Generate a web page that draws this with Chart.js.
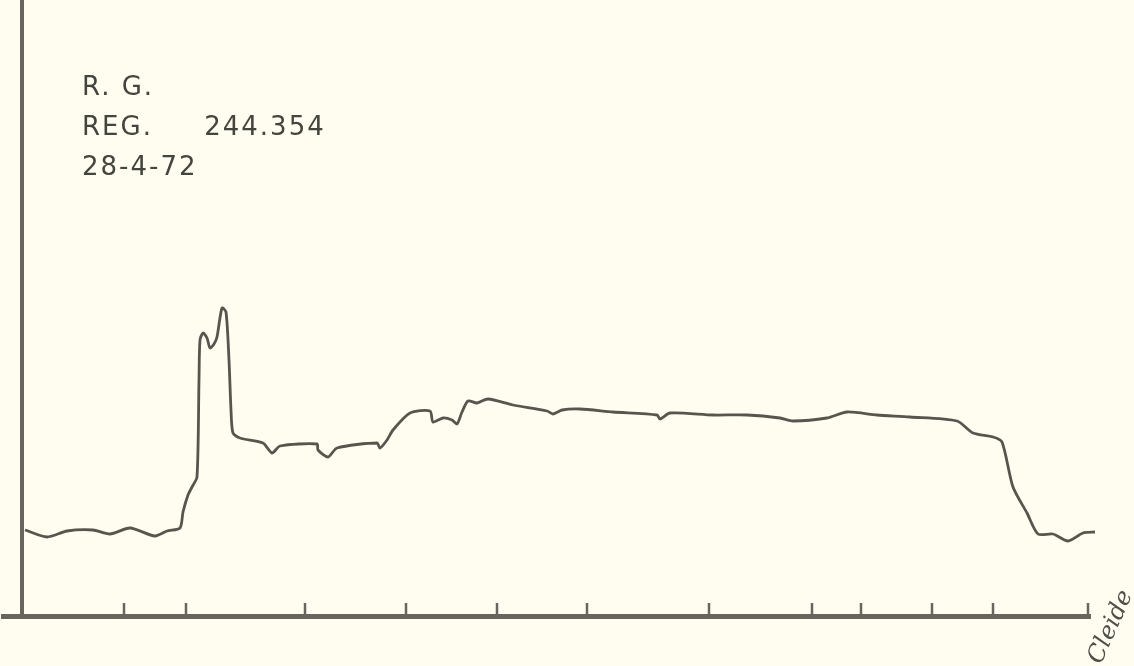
<!DOCTYPE html>
<html>
<head>
<meta charset="utf-8">
<script src="https://cdn.jsdelivr.net/npm/chart.js@4/dist/chart.umd.min.js"></script>
<style>
  html, body { margin: 0; padding: 0; background: #fefdf0; }
  canvas { display: block; }
</style>
</head>
<body>
<canvas id="trace_chart" width="1134" height="666"></canvas>
<script>
// recording data
var trace_x = [3, 25, 45, 71, 88, 108, 133, 145, 158, 161, 166, 170, 175, 177, 178, 181, 185, 188, 192, 195,
  200, 204, 207, 209, 211, 218, 241, 250, 258, 295, 296, 306, 315, 355, 358, 365, 371, 388, 408, 411,
  421, 430, 435, 440, 446, 455, 466, 491, 525, 531, 540, 558, 591, 635, 638, 648, 691, 725, 758, 771,
  805, 825, 855, 888, 935, 951, 971, 980, 991, 1005, 1016, 1031, 1046, 1061, 1073]
var trace_y = [86, 79, 85, 86, 82, 88, 80, 85, 88, 104, 121, 129, 139, 236, 276, 283, 278, 268, 272, 279,
  308, 304, 256, 206, 183, 178, 173, 163, 170, 172, 166, 159, 168, 173, 168, 176, 186, 203, 205, 194,
  198, 196, 192, 204, 215, 213, 217, 211, 205, 202, 206, 207, 204, 201, 197, 203, 201, 201, 198, 195,
  198, 204, 201, 199, 195, 183, 179, 174, 129, 103, 82, 82, 75, 83, 84]
var tick_x = [102, 164, 283, 384, 475, 565, 687, 790, 839, 910, 971, 1066]
var note_lines = ['R. G.', 'REG.     244.354', '28-4-72']
var signature = 'Cleide'

var inkColor = '#56564f'
var axisColor = '#66665f'

var points = trace_x.map((x, i) => ({ x: x, y: trace_y[i] }))

// tick marks go up from the axis, and the notes on the paper
const paperMarks = {
  id: 'paperMarks',
  afterDraw: (chart) => {
    const ctx = chart.ctx
    const xs = chart.scales.x
    const bottom = chart.chartArea.bottom
    ctx.save()
    ctx.strokeStyle = axisColor
    ctx.lineWidth = 2.5
    xs.ticks.forEach((t) => {
      const px = xs.getPixelForValue(t.value)
      ctx.beginPath()
      ctx.moveTo(px, bottom - 2)
      ctx.lineTo(px, bottom - 13)
      ctx.stroke()
    })

    ctx.fillStyle = '#45453f'
    ctx.font = '26px "DejaVu Sans"'
    ctx.letterSpacing = '2px'
    ctx.textBaseline = 'alphabetic'
    note_lines.forEach((line, i) => {
      ctx.fillText(line, 82, 95 + i * 40)
    })

    ctx.letterSpacing = '0px'
    ctx.translate(1111, 627)
    ctx.rotate(-1.15)
    ctx.font = 'italic 24px "DejaVu Serif"'
    ctx.textAlign = 'center'
    ctx.textBaseline = 'middle'
    ctx.fillStyle = '#4f4f49'
    ctx.fillText(signature, 0, 0)
    ctx.restore()
  }
}

new Chart(document.getElementById('trace_chart'), {
  type: 'line',
  data: {
    datasets: [
      {
        data: points,
        borderColor: inkColor,
        borderWidth: 2.8,
        pointRadius: 0,
        tension: 0.25,
        fill: false,
        clip: false,
      }
    ]
  },
  options: {
    responsive: false,
    animation: false,
    layout: { padding: { left: 3, right: 44, top: 2, bottom: 50 } },
    plugins: {
      legend: { display: false },
      tooltip: { enabled: false }
    },
    scales: {
      x: {
        type: 'linear',
        min: -19,
        max: 1068,
        ticks: { display: false },
        grid: { display: false, drawTicks: false },
        border: { display: true, width: 5, color: axisColor },
        afterBuildTicks: (scale) => {
          scale.ticks = tick_x.map((v) => ({ value: v }))
        }
      },
      y: {
        type: 'linear',
        min: 0,
        max: 614,
        position: { x: 0 },
        ticks: { display: false },
        grid: { display: false, drawTicks: false },
        border: { display: true, width: 4, color: axisColor }
      }
    }
  },
  plugins: [paperMarks]
})
</script>
</body>
</html>
